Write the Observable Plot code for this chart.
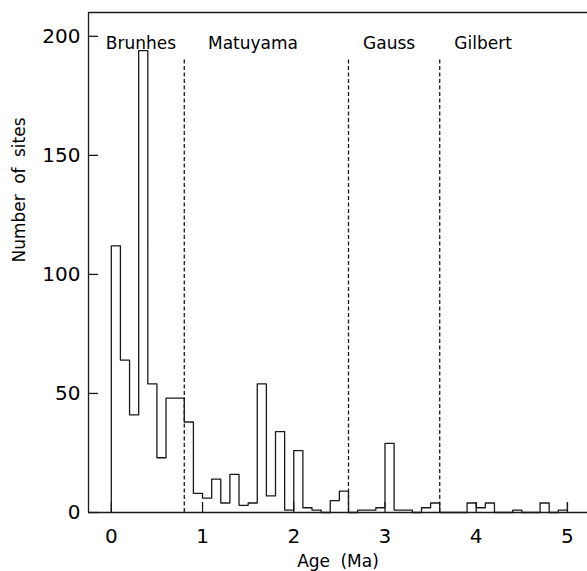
<!DOCTYPE html>
<html><head><meta charset="utf-8">
<script src="https://cdn.jsdelivr.net/npm/d3@7"></script>
<script src="https://cdn.jsdelivr.net/npm/@observablehq/plot@0.6"></script>
<style>body{margin:0;background:#fff}</style>
</head><body><div id="chart"></div>
<script>
// Histogram bins (start age, Ma) and number of sites per 0.1 Ma bin
const binStart = [0.0,0.1,0.2,0.3,0.4,0.5,0.6,0.7,0.8,0.9,
  1.0,1.1,1.2,1.3,1.4,1.5,1.6,1.7,1.8,1.9,
  2.0,2.1,2.2,2.3,2.4,2.5,2.6,2.7,2.8,2.9,
  3.0,3.1,3.2,3.3,3.4,3.5,3.6,3.7,3.8,3.9,
  4.0,4.1,4.2,4.3,4.4,4.5,4.6,4.7,4.8,4.9,5.0];
const siteCounts = [112,64,41,194,54,23,48,48,38,8,
  6,14,4,16,3,4,54,7,34,1,
  26,2,1,0,5,9,0,1,1,2,
  29,1,1,0,2,4,0,0,0,4,
  2,4,0,0,1,0,0,4,0,1,4];
const periodNames = ["Brunhes","Matuyama","Gauss","Gilbert"];
const periodLabelAge = [-0.06, 1.06, 2.76, 3.76];
const periodLabelCount = 197;
const reversalAges = [0.8, 2.6, 3.6];
const reversalTop = 190;
const xTicks = [0,1,2,3,4,5];
const yTicks = [0,50,100,150,200];
const xDomain = [-0.25, 5.22];
const yDomain = [0, 210];

const W = 587, H = 571, ML = 88, MR = 0, MT = 12, MB = 59;
const tickPx = 10;
// convert tick length in pixels to data units
const tickLenX = tickPx * (xDomain[1] - xDomain[0]) / (W - ML - MR);
const tickLenY = tickPx * (yDomain[1] - yDomain[0]) / (H - MT - MB);

const steps = [{age: binStart[0], n: 0}].concat(binStart.map((a, i) => ({age: a, n: siteCounts[i]})));
const labels = periodNames.map((name, i) => ({name, age: periodLabelAge[i]}));
const ink = "#1a1a1a";

const chart = Plot.plot({
  width: W, height: H,
  marginLeft: ML, marginRight: MR, marginTop: MT, marginBottom: MB,
  style: {fontFamily: "DejaVu Sans", fontSize: "20px", background: "#fff", color: "#000"},
  x: {domain: xDomain},
  y: {domain: yDomain},
  marks: [
    Plot.ruleX(reversalAges, {x: d => d, y1: 0, y2: reversalTop, stroke: ink, strokeWidth: 1.3, strokeDasharray: "4,2.5"}),
    Plot.line(steps, {x: "age", y: "n", curve: "step-after", stroke: ink, strokeWidth: 1.3}),
    Plot.ruleY([yDomain[0]], {stroke: ink, strokeWidth: 1.3}),
    Plot.ruleY([yDomain[1]], {stroke: ink, strokeWidth: 1.3}),
    Plot.ruleX([xDomain[0]], {stroke: ink, strokeWidth: 1.3}),
    Plot.ruleY(yTicks, {y: d => d, x1: () => xDomain[0], x2: () => xDomain[0] + tickLenX, stroke: ink, strokeWidth: 1.3}),
    Plot.ruleX(xTicks, {x: d => d, y1: () => yDomain[0], y2: () => yDomain[0] + tickLenY, stroke: ink, strokeWidth: 1.3}),
    Plot.axisY({ticks: yTicks, tickSize: 0, tickPadding: 8, fontSize: 20, label: null, tickFormat: d3.format("d")}),
    Plot.axisX({ticks: xTicks, tickSize: 0, tickPadding: 16, fontSize: 20, label: null, tickFormat: d3.format("d")}),
    Plot.text(labels, {x: "age", y: () => periodLabelCount, text: "name", textAnchor: "start", lineAnchor: "middle", fontSize: 17, fill: "#000"}),
    Plot.text(["Age (Ma)"], {frameAnchor: "bottom", dy: 42, lineAnchor: "top", fontSize: 17, fill: "#000"}),
    Plot.text(["Number of sites"], {frameAnchor: "left", dx: -69, rotate: -90, lineAnchor: "middle", fontSize: 17, fill: "#000"})
  ]
});
chart.querySelectorAll("text").forEach(t => { if (t.textContent.includes(" ")) t.style.wordSpacing = "5px"; });
document.getElementById("chart").appendChild(chart);
</script>
</body></html>
